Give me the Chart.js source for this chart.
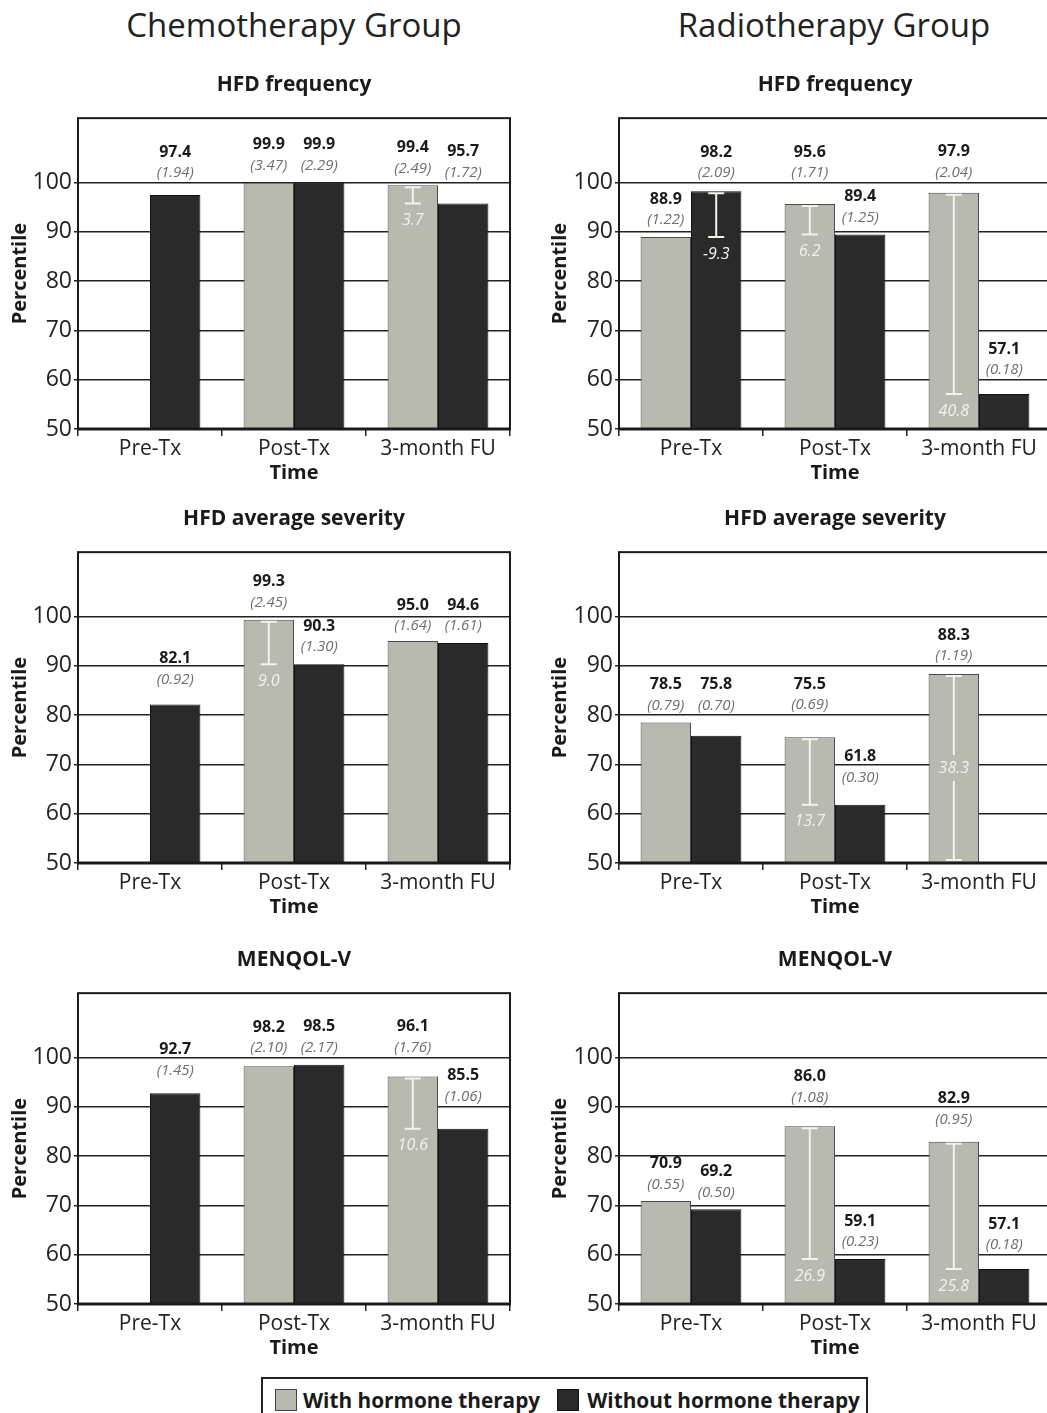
<!DOCTYPE html>
<html><head><meta charset="utf-8">
<script src="https://cdn.jsdelivr.net/npm/chart.js@4.4.1/dist/chart.umd.min.js"></script>
<style>
html,body{margin:0;padding:0;width:1047px;height:1413px;overflow:hidden;background:#fff;font-family:'Open Sans',sans-serif;}
.group{position:absolute;top:0;height:50px;line-height:50px;font-size:33px;color:#222;text-align:center;width:500px;}
canvas{position:absolute;}
#legend{position:absolute;left:261px;top:1377px;width:603px;height:42px;border:2px solid #222;box-sizing:content-box;display:flex;align-items:center;font-weight:bold;font-size:20.8px;color:#1a1a1a;white-space:nowrap;}
.sw{display:inline-block;width:22px;height:22px;border:1px solid #444;box-sizing:border-box;flex:none;}
</style></head>
<body>
<div class="group" style="left:44px">Chemotherapy Group</div>
<div class="group" style="left:584px">Radiotherapy Group</div>
<canvas id="c0" width="530" height="429" style="left:0;top:60px"></canvas>
<canvas id="c1" width="530" height="429" style="left:540px;top:60px"></canvas>
<canvas id="c2" width="530" height="429" style="left:0;top:494px"></canvas>
<canvas id="c3" width="530" height="429" style="left:540px;top:494px"></canvas>
<canvas id="c4" width="530" height="429" style="left:0;top:935px"></canvas>
<canvas id="c5" width="530" height="429" style="left:540px;top:935px"></canvas>
<div id="legend"><span class="sw" style="background:#b8bab0;margin-left:12px;margin-right:6px"></span><span>With hormone therapy</span><span class="sw" style="background:#2a2a2a;border-color:#111;margin-left:17px;margin-right:8px"></span><span>Without hormone therapy</span></div>
<script>
// ---- data ----
const timeLabels = ['Pre-Tx', 'Post-Tx', '3-month FU'];
const seriesNames = ['With hormone therapy', 'Without hormone therapy'];
const yTicks = [50, 60, 70, 80, 90, 100];

// Chemotherapy group
const chemoFreqWith = [null, 99.9, 99.4];
const chemoFreqWithout = [97.4, 99.9, 95.7];
const chemoFreqSeWith = [null, 3.47, 2.49];
const chemoFreqSeWithout = [1.94, 2.29, 1.72];
const chemoFreqDiff = [null, null, 3.7];

const chemoSevWith = [null, 99.3, 95.0];
const chemoSevWithout = [82.1, 90.3, 94.6];
const chemoSevSeWith = [null, 2.45, 1.64];
const chemoSevSeWithout = [0.92, 1.30, 1.61];
const chemoSevDiff = [null, 9.0, null];

const chemoMenWith = [null, 98.2, 96.1];
const chemoMenWithout = [92.7, 98.5, 85.5];
const chemoMenSeWith = [null, 2.10, 1.76];
const chemoMenSeWithout = [1.45, 2.17, 1.06];
const chemoMenDiff = [null, null, 10.6];

// Radiotherapy group
const radioFreqWith = [88.9, 95.6, 97.9];
const radioFreqWithout = [98.2, 89.4, 57.1];
const radioFreqSeWith = [1.22, 1.71, 2.04];
const radioFreqSeWithout = [2.09, 1.25, 0.18];
const radioFreqDiff = [-9.3, 6.2, 40.8];

const radioSevWith = [78.5, 75.5, 88.3];
const radioSevWithout = [75.8, 61.8, null];
const radioSevSeWith = [0.79, 0.69, 1.19];
const radioSevSeWithout = [0.70, 0.30, null];
const radioSevDiff = [null, 13.7, 38.3];

const radioMenWith = [70.9, 86.0, 82.9];
const radioMenWithout = [69.2, 59.1, 57.1];
const radioMenSeWith = [0.55, 1.08, 0.95];
const radioMenSeWithout = [0.50, 0.23, 0.18];
const radioMenDiff = [null, 26.9, 25.8];

const panelTitles = ['HFD frequency', 'HFD frequency', 'HFD average severity', 'HFD average severity', 'MENQOL-V', 'MENQOL-V'];

const panels = [
  {w: chemoFreqWith, wo: chemoFreqWithout, sw: chemoFreqSeWith, swo: chemoFreqSeWithout, d: chemoFreqDiff},
  {w: radioFreqWith, wo: radioFreqWithout, sw: radioFreqSeWith, swo: radioFreqSeWithout, d: radioFreqDiff},
  {w: chemoSevWith, wo: chemoSevWithout, sw: chemoSevSeWith, swo: chemoSevSeWithout, d: chemoSevDiff},
  {w: radioSevWith, wo: radioSevWithout, sw: radioSevSeWith, swo: radioSevSeWithout, d: radioSevDiff},
  {w: chemoMenWith, wo: chemoMenWithout, sw: chemoMenSeWith, swo: chemoMenSeWithout, d: chemoMenDiff},
  {w: radioMenWith, wo: radioMenWithout, sw: radioMenSeWith, swo: radioMenSeWithout, d: radioMenDiff}
];

// ---- styles ----
const FONT = "'Open Sans', sans-serif";
const GRAY = '#b8bab0', BLACK = '#2a2a2a';
Chart.defaults.font.family = FONT;
Chart.defaults.color = '#222';

const annot = {
  id: 'annot',
  afterDatasetsDraw(chart) {
    const p = panels[parseInt(chart.canvas.id.slice(1), 10)];
    if (!p) return;
    const {ctx, chartArea: a} = chart;
    const y = chart.scales.y;
    const gridPx = yTicks.map(v => y.getPixelForValue(v));
    ctx.save();
    // plot frame
    ctx.strokeStyle = '#1a1a1a';
    ctx.lineWidth = 2;
    ctx.strokeRect(a.left, a.top, a.right - a.left, a.bottom - a.top);
    ctx.lineWidth = 3;
    ctx.beginPath(); ctx.moveTo(a.left - 1, a.bottom); ctx.lineTo(a.right + 1, a.bottom); ctx.stroke();

    // difference brackets
    const metas = [chart.getDatasetMeta(0), chart.getDatasetMeta(1)];
    const vals = [p.w, p.wo];
    p.d.forEach((diff, i) => {
      if (diff == null) return;
      const host = diff >= 0 ? 0 : 1;
      const hv = vals[host][i];
      const lv = hv - Math.abs(diff);
      const x = metas[host].data[i].x;
      const yT = y.getPixelForValue(hv) + 2;
      let yB = y.getPixelForValue(lv);
      if (yB > a.bottom - 3) yB = a.bottom - 3;
      const cap = 8;
      ctx.strokeStyle = '#f3f3ec';
      ctx.fillStyle = '#f3f3ec';
      ctx.lineWidth = 2;
      ctx.font = 'italic 16px ' + FONT;
      ctx.textAlign = 'center';
      ctx.textBaseline = 'middle';
      const txt = diff.toFixed(1);
      ctx.beginPath();
      ctx.moveTo(x - cap, yT); ctx.lineTo(x + cap, yT);
      ctx.moveTo(x - cap, yB); ctx.lineTo(x + cap, yB);
      if (a.bottom - yB > 26) {
        ctx.moveTo(x, yT); ctx.lineTo(x, yB);
        ctx.stroke();
        ctx.fillText(txt, x, yB + 17);
      } else {
        const mid = (yT + yB) / 2;
        ctx.moveTo(x, yT); ctx.lineTo(x, mid - 13);
        ctx.moveTo(x, mid + 13); ctx.lineTo(x, yB);
        ctx.stroke();
        ctx.fillText(txt, x, mid);
      }
    });

    // value labels: sit above the bar, nudged off the gridlines
    const ses = [p.sw, p.swo];
    const shifts = [0, 1, 2, 3];
    for (let s = 1; s < 60; s++) shifts.push(-s);
    ctx.textAlign = 'center';
    ctx.textBaseline = 'middle';
    [0, 1].forEach(d => {
      vals[d].forEach((v, i) => {
        if (v == null) return;
        const bar = metas[d].data[i];
        let sc = bar.y - 17;
        for (const s of shifts) {
          const c = bar.y - 17 + s, vc = c - 21;
          if (c > bar.y - 13) continue;
          if (gridPx.every(g => Math.abs(c - g) >= 9 && Math.abs(vc - g) >= 7)) { sc = c; break; }
        }
        const vc = sc - 21;
        ctx.fillStyle = '#1a1a1a';
        ctx.font = 'bold 16px ' + FONT;
        ctx.fillText(v.toFixed(1), bar.x, vc);
        ctx.fillStyle = '#6e6e6e';
        ctx.font = 'italic 15px ' + FONT;
        ctx.fillText('(' + ses[d][i].toFixed(2) + ')', bar.x, sc);
      });
    });
    ctx.restore();
  }
};

panels.forEach((p, k) => {
  const leftCol = k % 2 === 0;
  new Chart(document.getElementById('c' + k), {
    type: 'bar',
    data: {
      labels: timeLabels,
      datasets: [
        {label: seriesNames[0], data: p.w, backgroundColor: GRAY, borderColor: '#4a4a4a', borderWidth: 1},
        {label: seriesNames[1], data: p.wo, backgroundColor: BLACK, borderColor: '#111', borderWidth: 1}
      ]
    },
    options: {
      responsive: false,
      animation: false,
      events: [],
      categoryPercentage: 0.7,
      barPercentage: 1.0,
      layout: {padding: {top: 13, bottom: 0, left: 0, right: leftCol ? 20 : 19}},
      plugins: {
        legend: {display: false},
        tooltip: {enabled: false},
        title: {display: true, text: panelTitles[k], fullSize: false,
          font: {size: 21, weight: 'bold', lineHeight: 1.15}, color: '#1a1a1a',
          padding: {top: 0, bottom: 21}}
      },
      scales: {
        x: {
          grid: {display: true, drawOnChartArea: false, offset: true, tickLength: 7, color: '#222', lineWidth: 1.5},
          border: {display: false},
          ticks: {font: {size: 21}, color: '#222', padding: 0, maxRotation: 0},
          title: {display: true, text: 'Time', font: {size: 20, weight: 'bold', lineHeight: 1.2}, color: '#1a1a1a', padding: {top: 0, bottom: 4}},
          afterFit: s => { s.height = 60; }
        },
        y: {
          min: 50, max: 113,
          afterBuildTicks: s => { s.ticks = yTicks.map(v => ({value: v})); },
          grid: {color: '#222', lineWidth: 1.5, tickLength: 4},
          border: {display: false},
          ticks: {font: {size: 23}, color: '#222', padding: 2},
          title: {display: true, text: 'Percentile', font: {size: 20, weight: 'bold', lineHeight: 1.2}, color: '#1a1a1a', padding: {top: 8, bottom: 0}},
          afterFit: s => { s.width = leftCol ? 78 : 79; }
        }
      }
    },
    plugins: [annot]
  });
});
</script>
</body></html>
